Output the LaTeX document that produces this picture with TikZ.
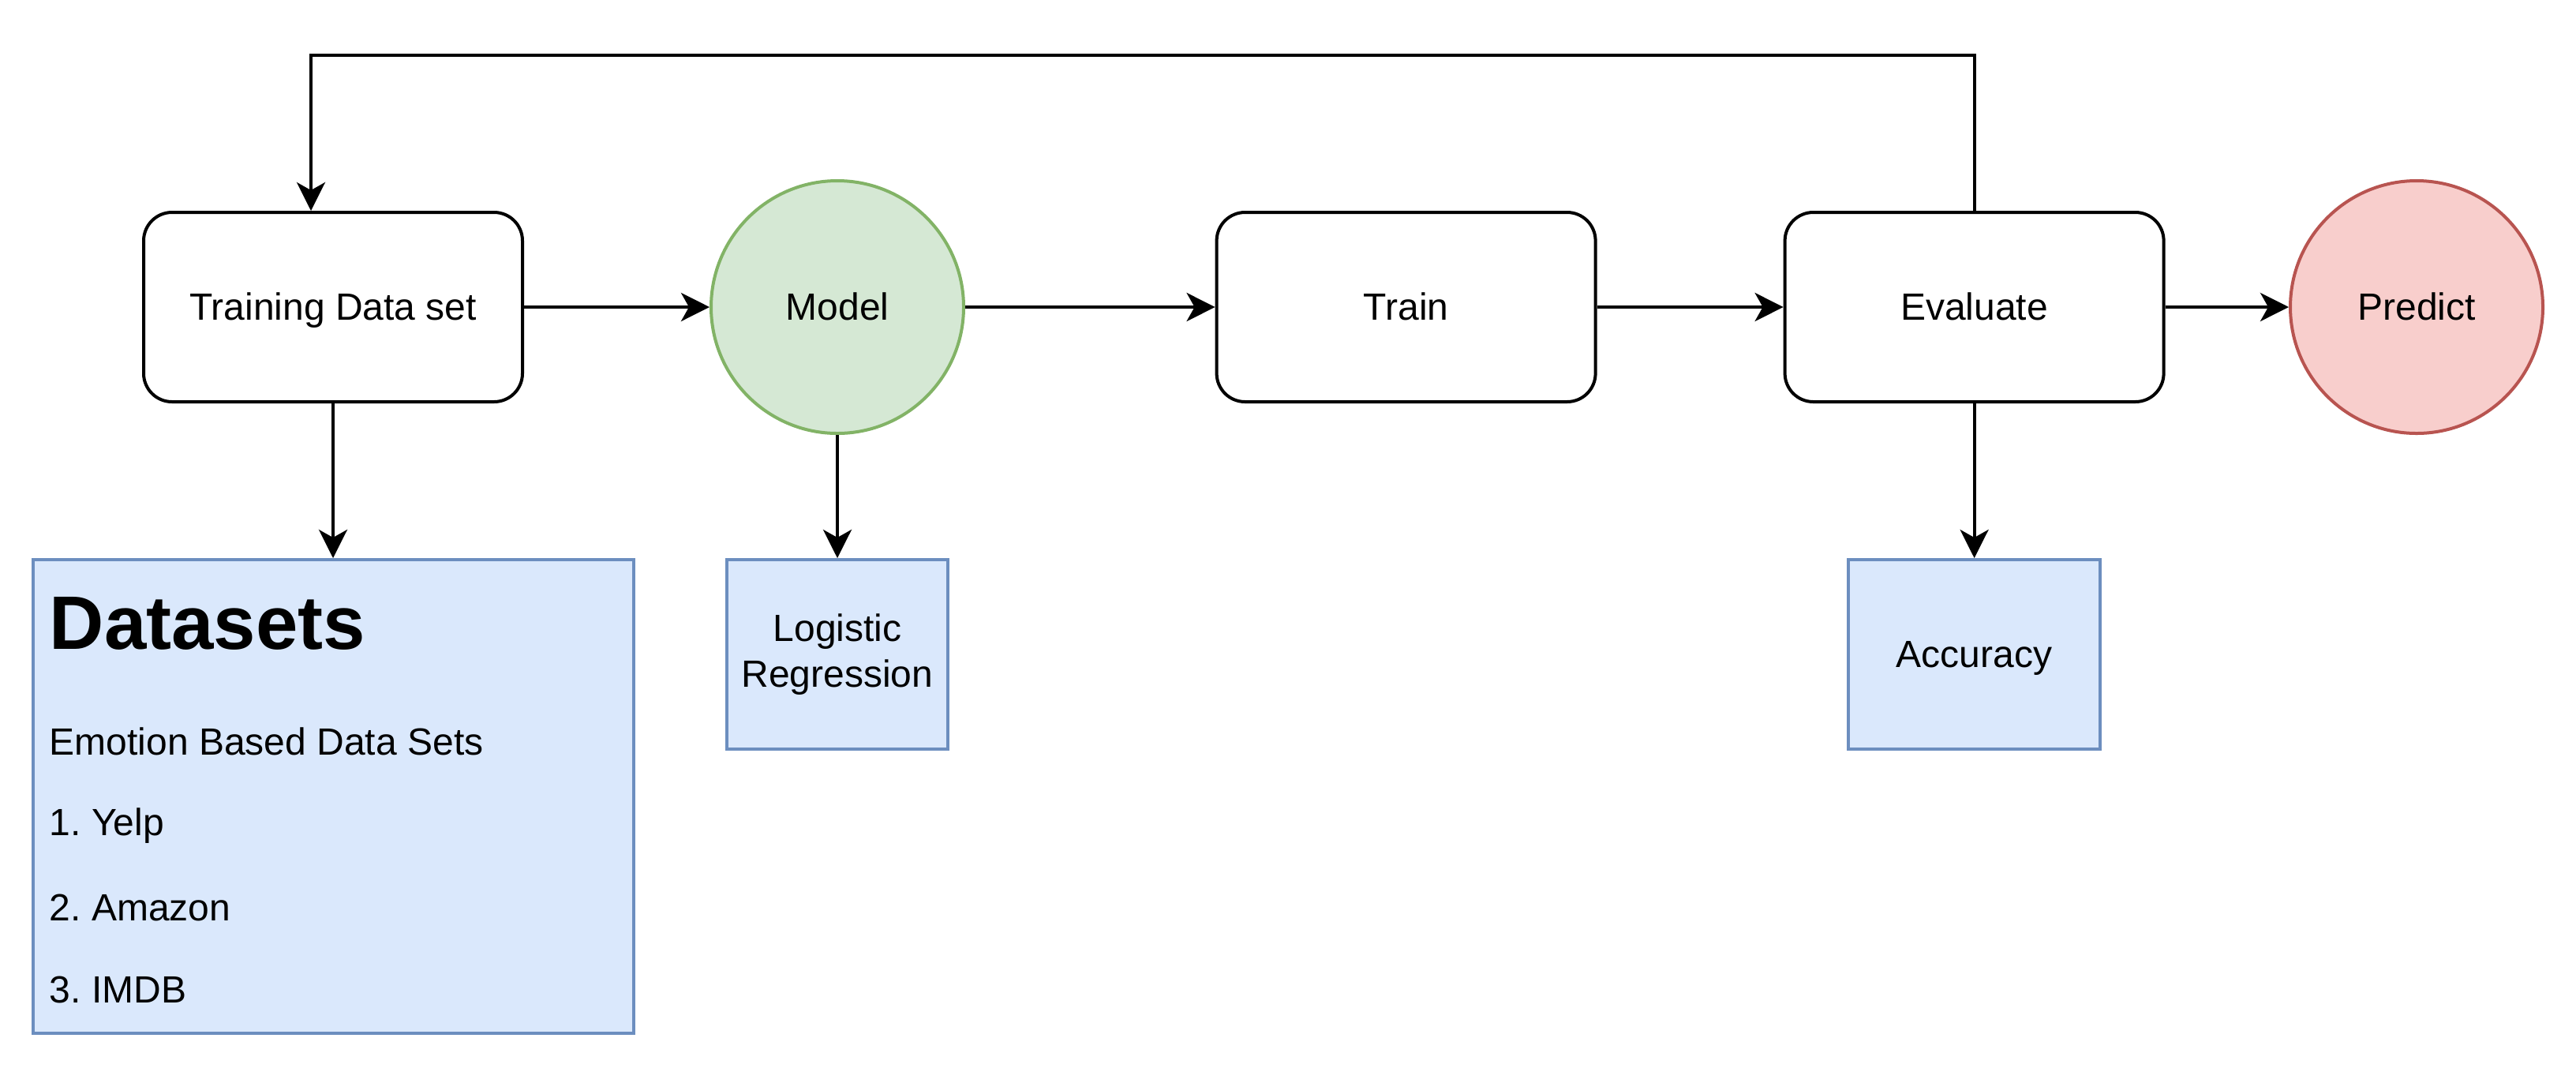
\documentclass[tikz,border=0pt]{standalone}
\usepackage{fontspec}
\setmainfont{Liberation Sans}
\usetikzlibrary{arrows.meta}
\frenchspacing
\definecolor{gfill}{HTML}{D5E8D4}
\definecolor{gline}{HTML}{82B366}
\definecolor{rfill}{HTML}{F8CECC}
\definecolor{rline}{HTML}{B85450}
\definecolor{bfill}{HTML}{DAE8FC}
\definecolor{bline}{HTML}{6C8EBF}
\tikzset{
  oneline/.style={text height=9pt, text depth=1pt},
  proc/.style={draw=black, line width=1pt, rounded corners=9pt, fill=white,
    minimum width=120pt, minimum height=60pt, inner sep=0pt, oneline},
  greencirc/.style={circle, draw=gline, fill=gfill, line width=1pt, minimum size=80pt, inner sep=0pt, oneline},
  redcirc/.style={circle, draw=rline, fill=rfill, line width=1pt, minimum size=80pt, inner sep=0pt, oneline},
  bluebox/.style={draw=bline, fill=bfill, line width=1pt, inner sep=0pt, align=center},
  conn/.style={line width=1pt, -{Stealth[length=9pt, width=9pt, inset=2.5pt]}},
  txt/.style={anchor=base west, inner sep=0pt},
}
\begin{document}
\begin{tikzpicture}[x=1pt, y=-1pt, font=\fontsize{12}{14.4}\selectfont]
\useasboundingbox (0,0) rectangle (816,338);
% main row
\node[proc] (tds) at (105.5,97.25) {Training Data set};
\node[greencirc] (model) at (265.25,97.25) {Model};
\node[proc] (train) at (445.4,97.25) {Train};
\node[proc] (eval) at (625.4,97.25) {Evaluate};
\node[redcirc] (pred) at (765.5,97.25) {Predict};
% lower boxes
\node[bluebox, minimum width=190.25pt, minimum height=150pt] (ds) at (105.5,252.25) {};
\node[bluebox, minimum width=70pt, minimum height=60pt] (lr) at (265.25,207.25) {Logistic\\Regression};
\node[bluebox, oneline, minimum width=79.75pt, minimum height=60pt] (acc) at (625.4,207.25) {Accuracy};
% datasets text
\node[txt, font=\fontsize{24}{28.8}\selectfont\bfseries] (dshead) at (15.5,205.5) {Datasets};
\node[txt] (dsl1) at (15.5,239) {Emotion Based Data Sets};
\node[txt] (dsl2) at (15.5,264.5) {1. Yelp};
\node[txt] (dsl3) at (15.5,291.5) {2. Amazon};
\node[txt] (dsl4) at (15.5,317.5) {3. IMDB};
% connectors
\draw[conn] (tds.east) -- (model.west);
\draw[conn] (model.east) -- (train.west);
\draw[conn] (train.east) -- (eval.west);
\draw[conn] (eval.east) -- (pred.west);
\draw[conn] (tds.south) -- (ds.north);
\draw[conn] (model.south) -- (lr.north);
\draw[conn] (eval.south) -- (acc.north);
\coordinate (fbtop) at (98.5,17.5);
\draw[conn] (eval.north) |- (fbtop) -- (tds.north -| fbtop);
\end{tikzpicture}
\end{document}
